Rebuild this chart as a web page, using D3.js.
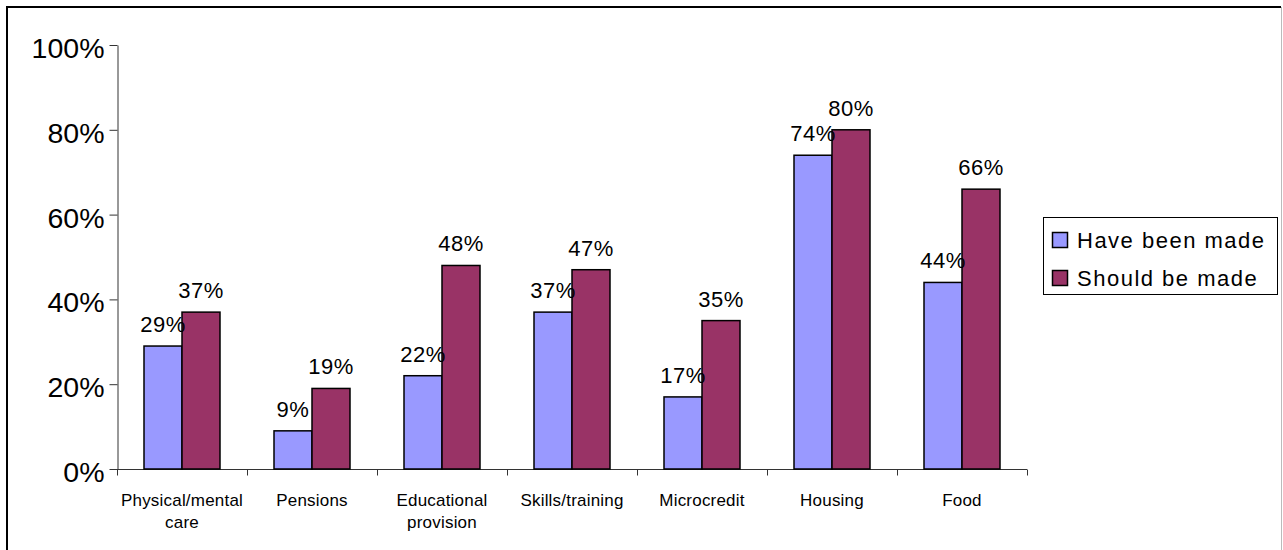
<!DOCTYPE html>
<html><head><meta charset="utf-8">
<script src="https://cdn.jsdelivr.net/npm/d3@7"></script>
<style>body{margin:0;background:#fff}svg{display:block;font-family:Arial,"Liberation Sans",sans-serif}</style>
</head><body>
<svg id="c" width="1283" height="550"></svg>
<script>
const categories = ["Physical/mental care","Pensions","Educational provision","Skills/training","Microcredit","Housing","Food"];
const categoryLines = [["Physical/mental","care"],["Pensions"],["Educational","provision"],["Skills/training"],["Microcredit"],["Housing"],["Food"]];
const seriesNames = ["Have been made","Should be made"];
const haveBeenMade = [29, 9, 22, 37, 17, 74, 44];
const shouldBeMade = [37, 19, 48, 47, 35, 80, 66];
const yTicks = [0, 20, 40, 60, 80, 100];
const colors = ["#9999FF","#993366"];

const svg = d3.select("#c");
// outer frame
svg.append("line").attr("x1",7).attr("y1",7).attr("x2",7).attr("y2",560).attr("stroke","#000").attr("stroke-width",2);
svg.append("line").attr("x1",6).attr("y1",7).attr("x2",1281).attr("y2",7).attr("stroke","#000").attr("stroke-width",2);
svg.append("line").attr("x1",1281.5).attr("y1",7).attr("x2",1281.5).attr("y2",560).attr("stroke","#bbb").attr("stroke-width",1);

const pLeft = 117, pRight = 1027, pTop = 45, pBottom = 469;
const x = d3.scaleBand().domain(categories).range([pLeft, pRight]).paddingInner(0).paddingOuter(0);
const y = d3.scaleLinear().domain([0, 100]).range([pBottom, pTop]);
const barW = 38;
const series = [haveBeenMade, shouldBeMade];

// y axis
const yAxis = d3.axisLeft(y).tickValues(yTicks).tickFormat(d => d + "%").tickSize(8).tickSizeOuter(0);
const gy = svg.append("g").attr("transform", `translate(${pLeft + 0.5},0)`).call(yAxis);
gy.select(".domain").attr("stroke","#333");
gy.selectAll(".tick line").attr("stroke","#333");
gy.selectAll(".tick text").attr("font-size", 28.5).attr("fill","#000").attr("x", -13).attr("dy","0.44em").attr("font-family","Arial, 'Liberation Sans', sans-serif");

// x axis
const gx = svg.append("g").attr("transform", `translate(0,${pBottom + 0.5})`);
gx.append("line").attr("x1", pLeft).attr("x2", pRight).attr("stroke","#333");
const bounds = categories.map(c => x(c)).concat([pRight]);
gx.selectAll("line.tk").data(bounds).join("line").attr("class","tk")
  .attr("x1", d => Math.round(d) + 0.5).attr("x2", d => Math.round(d) + 0.5).attr("y1", 0).attr("y2", 6).attr("stroke","#333");
const lbl = gx.selectAll("text.cat").data(categories).join("text").attr("class","cat")
  .attr("x", d => x(d) + x.bandwidth()/2).attr("y", 36).attr("text-anchor","middle").attr("font-size", 17).attr("letter-spacing", 0.2).attr("fill","#000");
lbl.each(function(d, i){
  const t = d3.select(this);
  categoryLines[i].forEach((ln, j) => t.append("tspan").attr("x", x(d) + x.bandwidth()/2).attr("dy", j === 0 ? 0 : 22).text(ln));
});

// bars
series.forEach((vals, s) => {
  const g = svg.append("g");
  g.selectAll("rect").data(vals).join("rect")
    .attr("x", (d, i) => x.bandwidth()/2 + x(categories[i]) - barW + s*barW)
    .attr("y", d => y(d))
    .attr("width", barW)
    .attr("height", d => y(0) - y(d))
    .attr("fill", colors[s]).attr("stroke","#000").attr("stroke-width",1.5);
});
// labels (drawn after all bars)
series.forEach((vals, s) => {
  svg.append("g").selectAll("text").data(vals).join("text")
    .attr("x", (d, i) => x.bandwidth()/2 + x(categories[i]) - barW + s*barW + barW/2)
    .attr("y", d => y(d) - 14)
    .attr("text-anchor","middle").attr("font-size", 22).attr("letter-spacing", 0.5).attr("fill","#000")
    .text(d => d + "%");
});

// legend
const lg = svg.append("g");
lg.append("rect").attr("x",1043.5).attr("y",217.5).attr("width",234).attr("height",77).attr("fill","#fff").attr("stroke","#000").attr("stroke-width",1);
seriesNames.forEach((n, i) => {
  lg.append("rect").attr("x",1052.5).attr("y",232.5 + i*38).attr("width",15).attr("height",15).attr("fill",colors[i]).attr("stroke","#000").attr("stroke-width",1.5);
  lg.append("text").attr("x",1077).attr("y",247.5 + i*38).attr("font-size",22).attr("letter-spacing",1.5).attr("fill","#000").text(n);
});
</script>
</body></html>
